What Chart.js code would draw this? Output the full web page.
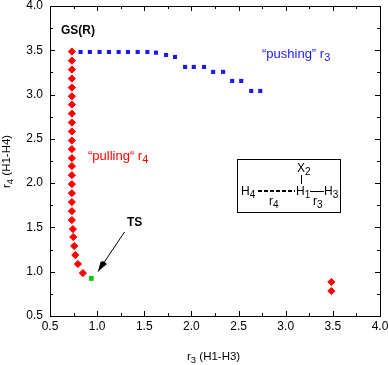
<!DOCTYPE html>
<html>
<head>
<meta charset="utf-8">
<style>
html, body { margin: 0; padding: 0; background: #fff; }
#wrap { width: 388px; height: 365px; }
</style>
<script src="https://cdn.jsdelivr.net/npm/chart.js@4"></script>
</head>
<body>
<div id="wrap"><canvas id="chart" width="388" height="365"></canvas></div>
<script>
// values
const pullX = [0.732, 0.732, 0.732, 0.732, 0.732, 0.732, 0.732, 0.732, 0.732, 0.732, 0.732, 0.732, 0.732, 0.732, 0.732, 0.732, 0.732, 0.732, 0.732, 0.732, 0.743, 0.747, 0.757, 0.768, 0.796, 0.849, 3.484, 3.484];
const pullY = [3.485, 3.383, 3.282, 3.18, 3.079, 2.981, 2.887, 2.785, 2.684, 2.583, 2.481, 2.384, 2.282, 2.192, 2.09, 1.989, 1.887, 1.786, 1.684, 1.583, 1.481, 1.391, 1.29, 1.188, 1.087, 0.985, 0.884, 0.782];
const pushX = [0.824, 0.923, 1.026, 1.125, 1.228, 1.327, 1.43, 1.533, 1.624, 1.731, 1.826, 1.933, 2.025, 2.134, 2.23, 2.336, 2.432, 2.528, 2.634, 2.73];
const pushY = [3.481, 3.481, 3.481, 3.481, 3.481, 3.481, 3.481, 3.481, 3.473, 3.447, 3.425, 3.312, 3.312, 3.312, 3.256, 3.256, 3.154, 3.154, 3.041, 3.041];
const tsX = [0.938];
const tsY = [0.924];
const axisMin = 0.5, axisMax = 4.0, tickStep = 0.25;

function toPoints(xs, ys)
{
    return xs.map((x, i) => ({x: x, y: ys[i]}));
}

// text with an optional lowered part, parts = [[string, isSub], ...]
function richText(ctx, parts, x, y, size, color, bold)
{
    ctx.fillStyle = color;
    ctx.textAlign = "left";
    ctx.textBaseline = "alphabetic";
    let weight = bold ? "bold " : "";
    for (const p of parts) {
        ctx.font = weight + (p[1] ? size - 2 : size) + "px 'Liberation Sans'";
        ctx.fillText(p[0], x, p[1] ? y + 3 : y);
        x += ctx.measureText(p[0]).width;
    }
}

const framePlugin = {
    id: "frame",
    afterDatasetsDraw(chart) {
        const ctx = chart.ctx, a = chart.chartArea;
        const sx = chart.scales.x, sy = chart.scales.y;
        ctx.save();
        ctx.strokeStyle = "#000";
        ctx.lineWidth = 1;
        ctx.strokeRect(Math.round(a.left) + 0.5, Math.round(a.top) + 0.5, Math.round(a.width), Math.round(a.height));
        ctx.beginPath();
        sx.ticks.forEach(t => {
            let len = Math.abs((t.value * 2) % 1) < 1e-6 ? 5 : 3;
            let px = Math.round(sx.getPixelForValue(t.value)) + 0.5;
            ctx.moveTo(px, a.bottom); ctx.lineTo(px, a.bottom - len);
            ctx.moveTo(px, a.top); ctx.lineTo(px, a.top + len);
        });
        sy.ticks.forEach(t => {
            let len = Math.abs((t.value * 2) % 1) < 1e-6 ? 5 : 3;
            let py = Math.round(sy.getPixelForValue(t.value)) + 0.5;
            ctx.moveTo(a.left, py); ctx.lineTo(a.left + len, py);
            ctx.moveTo(a.right, py); ctx.lineTo(a.right - len, py);
        });
        ctx.stroke();

        // axis titles
        richText(ctx, [["r", false], ["3", true], [" (H1-H3)", false]], 187, 360, 11.5, "#000");
        ctx.save();
        ctx.translate(10, 188);
        ctx.rotate(-Math.PI / 2);
        richText(ctx, [["r", false], ["4", true], [" (H1-H4)", false]], 0, 0, 11.5, "#000");
        ctx.restore();

        // labels inside the plot
        richText(ctx, [["GS(R)", false]], 61, 34, 12, "#000", true);
        richText(ctx, [["TS", false]], 127, 226, 12, "#000", true);
        richText(ctx, [["\u201Cpulling\u201C r", false], ["4", true]], 88, 160, 13, "#f00");
        richText(ctx, [["\u201Cpushing\u201D r", false], ["3", true]], 262, 58, 13, "#1a1aee");

        // TS arrow
        ctx.beginPath();
        ctx.moveTo(124.5, 232);
        ctx.lineTo(98, 271.5);
        ctx.stroke();
        ctx.fillStyle = "#000";
        ctx.beginPath();
        ctx.moveTo(98, 271.5);
        ctx.lineTo(100.5, 262);
        ctx.lineTo(103, 261);
        ctx.lineTo(107, 264);
        ctx.closePath();
        ctx.fill();

        // scheme box
        ctx.strokeRect(237.5, 159.5, 103, 53);
        richText(ctx, [["X", false], ["2", true]], 297, 172, 12, "#000");
        richText(ctx, [["H", false], ["4", true]], 241, 195, 12, "#000");
        richText(ctx, [["H", false], ["1", true]], 296, 195, 12, "#000");
        richText(ctx, [["H", false], ["3", true]], 324, 195, 12, "#000");
        richText(ctx, [["r", false], ["4", true]], 269, 205, 12, "#000");
        richText(ctx, [["r", false], ["3", true]], 313, 205, 12, "#000");
        ctx.beginPath();
        ctx.moveTo(301.5, 175); ctx.lineTo(301.5, 184);
        ctx.moveTo(310, 191.5); ctx.lineTo(324, 191.5);
        ctx.stroke();
        ctx.lineWidth = 2;
        ctx.setLineDash([4, 2]);
        ctx.beginPath();
        ctx.moveTo(258, 191); ctx.lineTo(295, 191);
        ctx.stroke();
        ctx.restore();
    }
};

function axisOptions()
{
    return {
        type: "linear",
        min: axisMin,
        max: axisMax,
        grid: {display: false, drawTicks: false},
        border: {display: false},
        afterBuildTicks(scale) {
            let out = [];
            for (let i = 0; i <= (axisMax - axisMin) / tickStep; i++) {
                out.push({value: axisMin + i * tickStep});
            }
            scale.ticks = out;
        },
        ticks: {
            autoSkip: false,
            maxRotation: 0,
            color: "#000",
            font: {family: "'Liberation Sans'", size: 12},
            callback: v => Math.abs((v * 2) % 1) < 1e-6 ? v.toFixed(1) : ""
        }
    };
}

// the labels may hang over the plot edges, so no extra room for them
function clearPadding(scale)
{
    scale.paddingLeft = scale.paddingRight = scale.paddingTop = scale.paddingBottom = 0;
}

const xAxis = axisOptions();
xAxis.ticks.padding = 3;
xAxis.afterFit = scale => { clearPadding(scale); scale.height = 49; };
const yAxis = axisOptions();
yAxis.ticks.padding = 7;
yAxis.afterFit = scale => { clearPadding(scale); scale.width = 50; };

new Chart(document.getElementById("chart"), {
    type: "scatter",
    data: {
        datasets: [
            {label: "pulling r4", data: toPoints(pullX, pullY), pointStyle: "rectRot", pointRadius: 3.6, backgroundColor: "#f00", borderColor: "#f00", borderWidth: 1},
            {label: "pushing r3", data: toPoints(pushX, pushY), pointStyle: "rect", pointRadius: 2.9, backgroundColor: "#1a1aee", borderColor: "#1a1aee", borderWidth: 0},
            {label: "TS", data: toPoints(tsX, tsY), pointStyle: "rect", pointRadius: 3.4, backgroundColor: "#11c811", borderColor: "#11c811", borderWidth: 0}
        ]
    },
    options: {
        responsive: false,
        animation: false,
        layout: {autoPadding: false, padding: {left: 0, right: 8, top: 6, bottom: 0}},
        plugins: {legend: {display: false}, tooltip: {enabled: false}},
        scales: {x: xAxis, y: yAxis}
    },
    plugins: [framePlugin]
});
</script>
</body>
</html>
